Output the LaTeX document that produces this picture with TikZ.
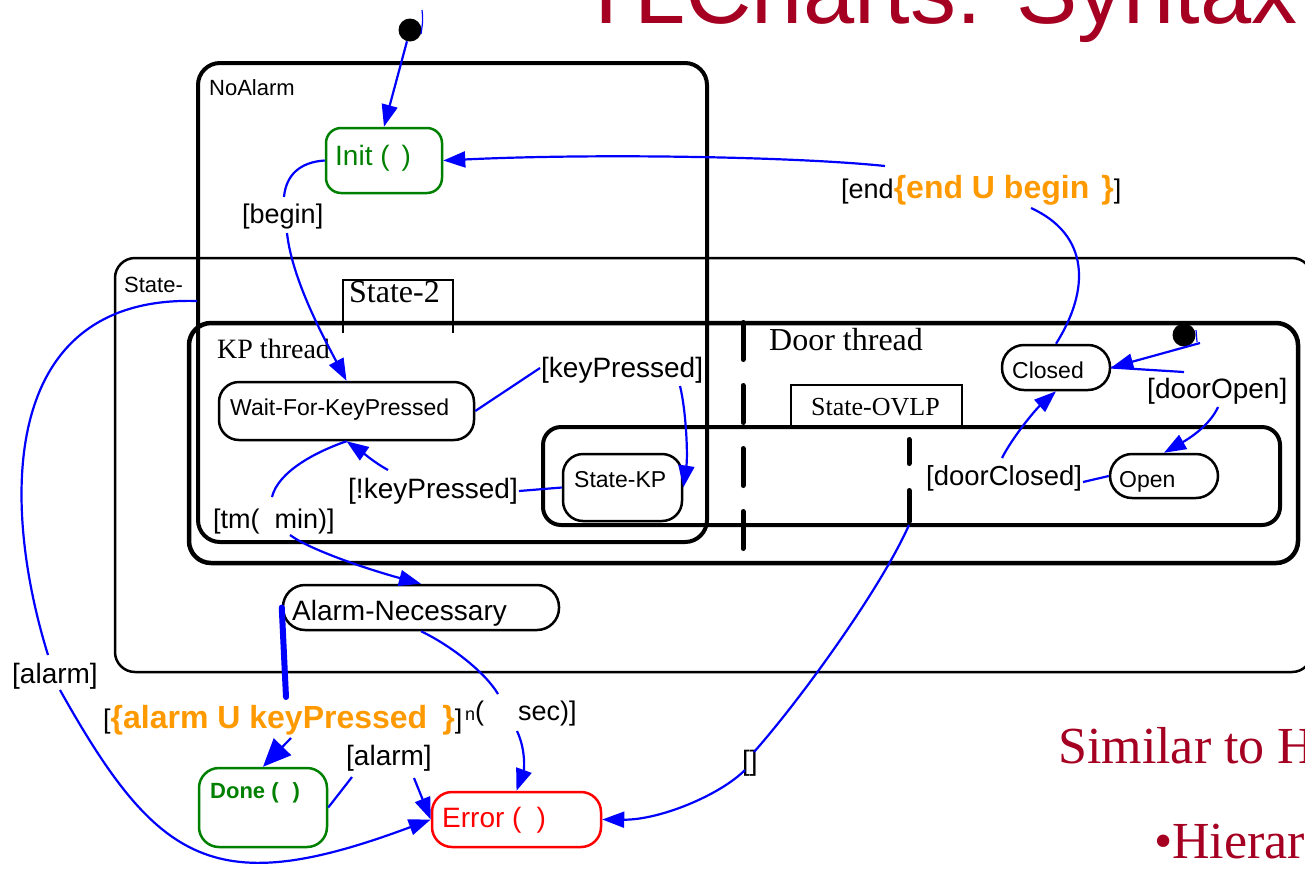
\documentclass[tikz,border=0pt]{standalone}
\usepackage{fontspec}
\setmainfont{Liberation Sans}
\newfontfamily\rmserif{Liberation Serif}
\usetikzlibrary{arrows.meta}

\definecolor{slidered}{RGB}{165,0,33}
\definecolor{stgreen}{RGB}{0,128,0}
\definecolor{guardorange}{RGB}{255,153,0}
\definecolor{trblue}{RGB}{0,0,255}
\newcommand\fs[1]{\fontsize{#1}{#1}\selectfont}

\begin{document}
\begin{tikzpicture}[x=1pt,y=-1pt,
  stbox/.style={draw, line width=2.5pt, rectangle, inner sep=0pt},
  dot/.style={circle, fill=black, inner sep=0pt, minimum size=23pt},
  seg/.style={draw=trblue, line width=2.2pt},
  trans/.style={draw=trblue, line width=2.2pt, -{Triangle[length=22pt,width=16pt,fill=trblue]}},
  txt/.style={anchor=base west, inner sep=0pt},
  guard/.style={font=\bfseries\fs{32}, text=guardorange}
]
\useasboundingbox (0,0) rectangle (1305,871);
\clip (0,0) rectangle (1305,871);

% slide texts
\node[txt, text=slidered, font=\fs{92}] (title) at (578,23) {TLCharts: Syntax};
\node[txt, text=slidered, font=\rmserif\fs{52}] (similar) at (1058,763) {Similar to H};
\node[txt, text=slidered, font=\rmserif\fs{52}] (hier) at (1154,858) {\textbullet Hierar};

% containers
\draw[line width=2.5pt, rounded corners=20pt] (115,258) rectangle (1312,672);
\draw[line width=1.2pt] (343,333) -- (343,280) -- (453,280) -- (453,333);
\draw[line width=4.5pt, rounded corners=22pt] (189,323) rectangle (1298,563);
\draw[line width=4pt, rounded corners=18pt] (543,427) rectangle (1280,525);
\draw[line width=1.2pt] (791,427) -- (791,385) -- (962,385) -- (962,427);
\draw[line width=4pt, rounded corners=22pt] (198,63) rectangle (707,542);

% concurrency separators
\draw[line width=5pt, line cap=round, dash pattern=on 37pt off 26pt] (743,322.5) -- (743,550);
\draw[line width=5pt, line cap=round, dash pattern=on 24pt off 27pt on 31pt off 10pt] (909,439.5) -- (909,521.5);
\coordinate (forkend) at (909,525);

% container labels
\node[txt, font=\fs{22}] (lNoAlarm) at (209,95) {NoAlarm};
\node[txt, font=\fs{22}] (lState) at (124,292) {State-};
\node[txt, font=\rmserif\fs{32}] (lState2) at (349,302) {State-2};
\node[txt, font=\rmserif\fs{28}] (lKP) at (217,358) {KP thread};
\node[txt, font=\rmserif\fs{32}] (lDoor) at (769,350) {Door thread};
\node[txt, font=\rmserif\fs{26}] (lOVLP) at (811,415) {State-OVLP};

% states
\node[stbox, draw=stgreen, rounded corners=15pt, minimum width=116pt, minimum height=65pt] (init) at (384,160.5) {};
\node[txt, text=stgreen, font=\fs{28}] (tInit) at (335,165) {Init (\hspace{12pt})};
\node[stbox, rounded corners=20pt, minimum width=255pt, minimum height=58pt] (wait) at (346.5,411) {};
\node[txt, font=\fs{23}] (tWait) at (230,415) {Wait-For-KeyPressed};
\node[stbox, rounded corners=20pt, minimum width=119pt, minimum height=67pt] (statekp) at (622.5,487.5) {};
\node[txt, font=\fs{23}] (tStateKP) at (574,487) {State-KP};
\node[stbox, rounded corners=22pt, minimum width=108pt, minimum height=45pt] (closed) at (1056,367.5) {};
\node[txt, font=\fs{23}] (tClosed) at (1012,378) {Closed};
\node[stbox, rounded corners=22pt, minimum width=108pt, minimum height=44pt] (open) at (1164,476) {};
\node[txt, font=\fs{23}] (tOpen) at (1119,487) {Open};
\node[stbox, rounded corners=22pt, minimum width=276pt, minimum height=45pt] (an) at (421,607.5) {};
\node[txt, font=\fs{28}] (tAN) at (292,620) {Alarm-Necessary};
\node[stbox, draw=stgreen, rounded corners=20pt, minimum width=128pt, minimum height=79pt] (done) at (263,807.5) {};
\node[txt, text=stgreen, font=\bfseries\fs{22}] (tDone) at (210,798) {Done (\hspace{14pt})};
\node[stbox, draw=red, rounded corners=20pt, minimum width=169pt, minimum height=55pt] (error) at (516.5,819.5) {};
\node[txt, text=red, font=\fs{28}] (tError) at (442,827) {Error (\hspace{15pt})};

% initial pseudo-states
\node[dot] (init0) at (410,30) {};
\node[dot] (door0) at (1184,335) {};
\draw[trblue, line width=1.2pt] (422,10) .. controls (423,20) .. (421,34);
\draw[trblue, line width=1.2pt] (1196,330) -- (1197,342);
\coordinate (door0tail) at (1200,343);

% transition labels
\node[txt, font=\fs{27}] (lBegin) at (242,223) {[begin]};
\node[txt, font=\fs{27}] (lEnd) at (841,198) {[end{\bfseries\color{guardorange}\fs{32}\{end U begin\hspace{12pt}\}}]};
\node[txt, font=\fs{28}] (lKey) at (541,377) {[keyPressed]};
\node[txt, font=\fs{28}] (lNKey) at (348,498) {[!keyPressed]};
\node[txt, font=\fs{27}] (lTm) at (213,528) {[tm(\hspace{15pt}min)]};
\node[txt, font=\fs{28}] (lDoorOpen) at (1147,398) {[doorOpen]};
\node[txt, font=\fs{27.5}] (lDoorClosed) at (926,485) {[doorClosed]};
\node[txt, font=\fs{27}] (lUntil) at (103,728) {[{\bfseries\color{guardorange}\fs{32}\{alarm U keyPressed\hspace{15pt}\}}]};
\node[txt, font=\fs{27}] (lN) at (465,720) {{\fs{18}n}(};
\node[txt, font=\fs{27}] (lSec) at (518,720) {sec)]};
\node[txt, font=\fs{28}] (lAlarmBig) at (12,683) {[alarm]};
\node[txt, font=\fs{28}] (lAlarm) at (346,765) {[alarm]};
\node[txt, font=\fs{28}] (lEmpty) at (742,770) {[]};

% label attachment points
\coordinate (endA) at (1031,208);   \coordinate (endB) at (885,166);
\coordinate (begA) at (284,197);    \coordinate (begB) at (287,233);
\coordinate (kpA) at (540,368);     \coordinate (kpB) at (680,386);
\coordinate (nkA) at (519,491);     \coordinate (nkB) at (388,470);
\coordinate (tmA) at (272,497);     \coordinate (tmB) at (290,535);
\coordinate (auA) at (286,697);     \coordinate (auB) at (291,738);
\coordinate (secA) at (498,694);    \coordinate (secB) at (517,731);
\coordinate (alA) at (352,777);     \coordinate (alB) at (414,778);
\coordinate (bigA) at (197,301);    \coordinate (bigB) at (48,655);
\coordinate (bigC) at (60,690);
\coordinate (emA) at (754,752);     \coordinate (emB) at (745,770);
\coordinate (dOpenA) at (1184,372); \coordinate (dOpenB) at (1218,407);
\coordinate (dClA) at (1083,482);   \coordinate (dClB) at (1002,458);

% transitions
\draw[trans] (init0) -- (init.north);
\draw[seg] (closed.north) .. controls (1090,290) and (1090,235) .. (endA);
\draw[trans] (endB) .. controls (800,157) and (600,153) .. (init.east);
\draw[seg] (init.west) .. controls (300,162) and (286,175) .. (begA);
\draw[trans] (begB) .. controls (292,280) and (325,340) .. (wait.north);
\draw[seg] (wait.east) -- (kpA);
\draw[trans] (kpB) .. controls (686,410) and (688,455) .. (statekp.east);
\draw[seg] (statekp.west) -- (nkA);
\draw[trans] (nkB) .. controls (375,463) and (362,452) .. (wait.south);
\draw[seg] (wait.south) .. controls (315,452) and (278,472) .. (tmA);
\draw[trans] (tmB) .. controls (310,550) and (370,570) .. (an.north);
\draw[trblue, line width=6pt, line cap=round] (an.west) -- (auA);
\draw[trblue, line width=2.2pt, -{Triangle[length=28pt,width=24pt,fill=trblue]}] (auB) -- (done.north);
\draw[seg] (an.south) .. controls (450,645) and (485,672) .. (secA);
\draw[trans] (secB) .. controls (526,750) and (524,770) .. (error.north);
\draw[seg] (done.east) -- (alA);
\draw[trans] (alB) -- (error.west);
\draw[seg] (bigA) .. controls (0,295) and (0,500) .. (bigB);
\draw[trans] (bigC) .. controls (158,865) and (215,900) .. (error.west);
\draw[seg] (forkend) .. controls (880,590) and (800,700) .. (emA);
\draw[trans] (emB) .. controls (720,795) and (660,820) .. (error.east);
\draw[trans] (door0tail) -- (closed.east);
\draw[seg] (closed.east) -- (dOpenA);
\draw[trans] (dOpenB) .. controls (1210,425) and (1190,438) .. (open.north);
\draw[seg] (open.west) -- (dClA);
\draw[trans] (dClB) .. controls (1012,438) and (1035,410) .. (closed.south);
\end{tikzpicture}
\end{document}
